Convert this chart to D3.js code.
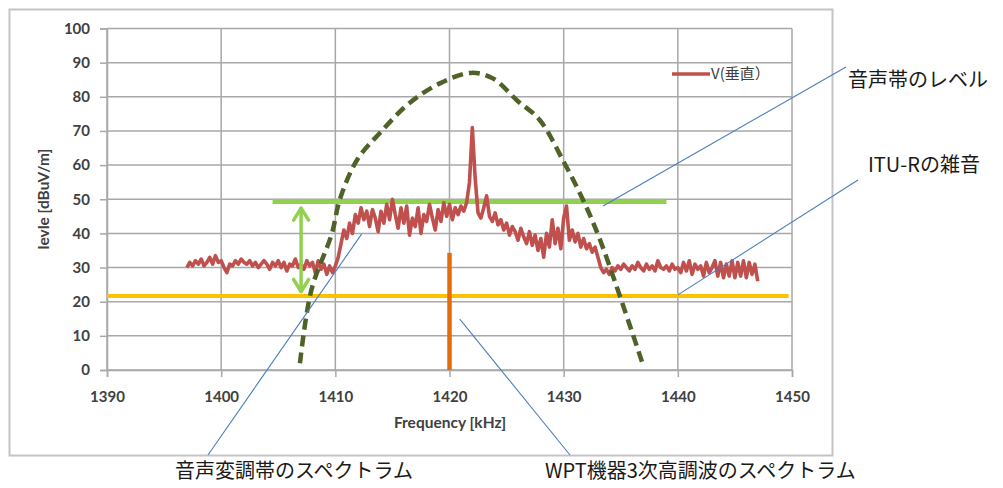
<!DOCTYPE html>
<html><head><meta charset="utf-8">
<script src="https://cdn.jsdelivr.net/npm/d3@7"></script>
<style>
html,body{margin:0;padding:0;background:#fff;}
svg{display:block;}
</style></head><body>
<div id="chart"></div>
<script>
// スペクトラム図: V(垂直) 測定値 + 音声帯/ITU-R雑音の目安線
const xTicks = [1390,1400,1410,1420,1430,1440,1450];
const yTicks = [0,10,20,30,40,50,60,70,80,90,100];
const seriesName = "V(垂直）";

// 測定値 (1397 kHz から 0.25 kHz 刻み)
const vStart = 1397, vStep = 0.25;
const vLevel = [
  30.0,31.5,30.5,32.0,31.0,32.5,30.5,31.5,33.0,31.0,33.5,31.5,32.0,30.0,28.5,31.0,
  30.5,32.0,31.0,32.5,31.5,31.0,32.0,30.5,31.5,30.0,31.0,32.0,31.0,29.5,31.5,30.5,
  32.0,30.0,31.5,29.0,31.0,30.5,32.5,30.0,31.0,29.5,32.0,30.5,31.5,28.5,32.0,29.5,
  31.0,28.0,30.5,28.5,30.5,33.0,37.0,41.0,38.5,43.0,40.0,45.5,43.0,47.5,44.0,46.5,
  42.0,47.0,44.5,40.5,46.5,43.0,48.5,44.0,50.0,45.5,41.5,47.5,43.0,48.0,39.5,44.5,
  42.0,47.5,40.0,45.5,43.5,48.5,44.5,41.0,47.0,43.5,49.0,45.0,48.5,44.0,47.5,45.5,
  48.0,46.5,49.0,55.0,71.0,56.0,46.0,44.5,47.5,51.0,45.0,43.5,46.0,42.5,44.0,41.0,
  43.0,39.5,42.0,40.5,38.0,41.5,39.0,37.0,40.5,36.5,39.5,35.0,38.5,33.0,40.0,36.0,
  44.0,37.0,41.5,35.5,44.5,48.0,38.0,41.0,37.5,40.0,36.0,38.5,35.5,37.0,34.5,36.0,
  33.0,30.0,28.5,29.5,28.0,30.0,29.0,30.5,29.5,31.0,30.0,29.0,30.5,29.5,31.5,30.0,
  29.0,31.0,29.5,30.5,29.0,32.0,30.0,29.5,30.5,29.0,31.0,29.5,30.0,28.5,31.5,29.0,
  32.0,28.0,31.0,29.5,30.5,27.5,31.5,28.5,30.0,32.0,27.5,31.5,27.0,31.0,27.5,32.0,
  27.0,31.5,27.5,32.0,27.0,31.5,28.0,31.0,26.0
];

// 音声変調帯の包絡線 (破線)
const bandFreq  = [1406.9,1407.9,1409.7,1410.4,1411.9,1413.9,1416.5,1419.2,1421.9,1423.8,1425.9,1427.9,1430.0,1431.7,1433.2,1436.9];
const bandLevel = [   2.0,  23.4,  40.0,  50.0,  61.5,  69.4,  78.2,  84.0,  87.0,  85.4,  79.0,  73.2,  61.0,  49.8,  38.0,   2.0];

const ituNoise   = {from:1390,   to:1449.7, level:21.7};
const voiceLevel = {from:1404.5, to:1439.0, level:49.3};
const marginArrow = {freq:1407, from:23, to:47.4};
const wptSpur = {freq:1420, level:34.3};

// 注釈: anchor はデータ座標, 線の端と文字はページ上の位置
const notes = [
  {text:"音声帯のレベル", anchor:[1433.45,48.0], end:[846,67], tx:848, ty:80},
  {text:"ITU-Rの雑音", anchor:[1440.0,22.0], end:[858,180], tx:868, ty:165},
  {text:"音声変調帯のスペクトラム", anchor:[1412.3,39.8], end:[208,455], tx:175, ty:471},
  {text:"WPT機器3次高調波のスペクトラム", anchor:[1420.9,14.9], end:[570,455], tx:545, ty:471}
];

const W = 1003, H = 488;
const svg = d3.select("#chart").append("svg").attr("width",W).attr("height",H);

// 枠
svg.append("rect").attr("x",9.5).attr("y",9.5).attr("width",823).attr("height",446)
  .attr("fill","#fff").attr("stroke","#c4c4c4").attr("stroke-width",2);

const x = d3.scaleLinear().domain([1390,1450]).range([107,792]);
const y = d3.scaleLinear().domain([0,100]).range([370,28.5]);
const gridColor = "#a8a8a8";
const tickFont = "Lato, 'Open Sans', sans-serif";

// グリッド
svg.append("g").selectAll("line").data(yTicks).join("line")
  .attr("x1",x(1390)).attr("x2",x(1450)).attr("y1",d=>y(d)).attr("y2",d=>y(d))
  .attr("stroke",gridColor).attr("stroke-width",1.5);
svg.append("g").selectAll("line").data(xTicks).join("line")
  .attr("x1",d=>x(d)).attr("x2",d=>x(d)).attr("y1",y(0)).attr("y2",y(100))
  .attr("stroke",gridColor).attr("stroke-width",1.5);

// 軸
const ax = svg.append("g").attr("transform",`translate(0,${y(0)})`)
  .call(d3.axisBottom(x).tickValues(xTicks).tickSize(7).tickPadding(14).tickFormat(d3.format("d")));
const ay = svg.append("g").attr("transform",`translate(${x(1390)},0)`)
  .call(d3.axisLeft(y).tickValues(yTicks).tickSize(7).tickPadding(10));
[ax,ay].forEach(g=>{
  g.select(".domain").attr("stroke",gridColor).attr("stroke-width",1.5);
  g.selectAll(".tick line").attr("stroke",gridColor).attr("stroke-width",1.5);
  g.selectAll(".tick text").attr("fill","#404040").attr("font-family",tickFont)
    .attr("font-weight","bold").attr("font-size",15);
});

svg.append("text").attr("x",450).attr("y",428).attr("text-anchor","middle")
  .attr("font-family",tickFont).attr("font-weight","bold").attr("font-size",15.5).attr("fill","#404040")
  .text("Frequency [kHz]");
svg.append("text").attr("transform","translate(49,199) rotate(-90)").attr("text-anchor","middle")
  .attr("font-family",tickFont).attr("font-weight","bold").attr("font-size",15.5).attr("fill","#404040")
  .text("levle [dBuV/m]");

// ITU-R 雑音レベル
svg.append("line").attr("x1",x(ituNoise.from)).attr("x2",x(ituNoise.to))
  .attr("y1",y(ituNoise.level)).attr("y2",y(ituNoise.level))
  .attr("stroke","#ffc000").attr("stroke-width",4);

// 音声帯のレベル
svg.append("line").attr("x1",x(voiceLevel.from)).attr("x2",x(voiceLevel.to))
  .attr("y1",y(voiceLevel.level)).attr("y2",y(voiceLevel.level))
  .attr("stroke","#92d050").attr("stroke-width",4.5);

// 測定値
const vData = vLevel.map((v,i)=>[vStart+i*vStep, v]);
svg.append("path").datum(vData)
  .attr("d",d3.line().x(d=>x(d[0])).y(d=>y(d[1])))
  .attr("fill","none").attr("stroke","#c0504d").attr("stroke-width",3.6).attr("stroke-linejoin","round");

// 3次高調波
svg.append("line").attr("x1",x(wptSpur.freq)).attr("x2",x(wptSpur.freq))
  .attr("y1",y(0)).attr("y2",y(wptSpur.level))
  .attr("stroke","#e46c0a").attr("stroke-width",4.5);

// 包絡線
svg.append("path").datum(bandFreq.map((f,i)=>[f,bandLevel[i]]))
  .attr("d",d3.line().x(d=>x(d[0])).y(d=>y(d[1])).curve(d3.curveCatmullRom))
  .attr("fill","none").attr("stroke","#4f6228").attr("stroke-width",4.5).attr("stroke-dasharray","11,6");

// 両矢印
const ag = svg.append("g").attr("stroke","#92d050").attr("stroke-width",3.5).attr("fill","none")
  .attr("stroke-linecap","round").attr("stroke-linejoin","round");
const axp = x(marginArrow.freq), aTop = y(marginArrow.to), aBot = y(marginArrow.from);
ag.append("line").attr("x1",axp).attr("x2",axp).attr("y1",aTop).attr("y2",aBot);
ag.append("path").attr("d",`M${axp-7.5},${aTop+12}L${axp},${aTop}L${axp+7.5},${aTop+12}`);
ag.append("path").attr("d",`M${axp-7.5},${aBot-12}L${axp},${aBot}L${axp+7.5},${aBot-12}`);

// 凡例
svg.append("line").attr("x1",672).attr("x2",710).attr("y1",74).attr("y2",74)
  .attr("stroke","#c0504d").attr("stroke-width",3.5);
svg.append("text").attr("x",711).attr("y",74).attr("dy","0.35em")
  .attr("font-family","'Noto Sans CJK JP', sans-serif").attr("font-size",15).attr("fill","#404040")
  .text(seriesName);

// 注釈線と文字
svg.append("g").selectAll("line").data(notes).join("line")
  .attr("x1",d=>x(d.anchor[0])).attr("y1",d=>y(d.anchor[1]))
  .attr("x2",d=>d.end[0]).attr("y2",d=>d.end[1])
  .attr("stroke","#4a7ebb").attr("stroke-width",1.1);
svg.append("g").selectAll("text").data(notes).join("text")
  .attr("x",d=>d.tx).attr("y",d=>d.ty).attr("dy","0.36em")
  .attr("font-family","'Noto Sans CJK JP', sans-serif").attr("font-size",20).attr("fill","#1a1a1a")
  .text(d=>d.text);
</script>
</body></html>
